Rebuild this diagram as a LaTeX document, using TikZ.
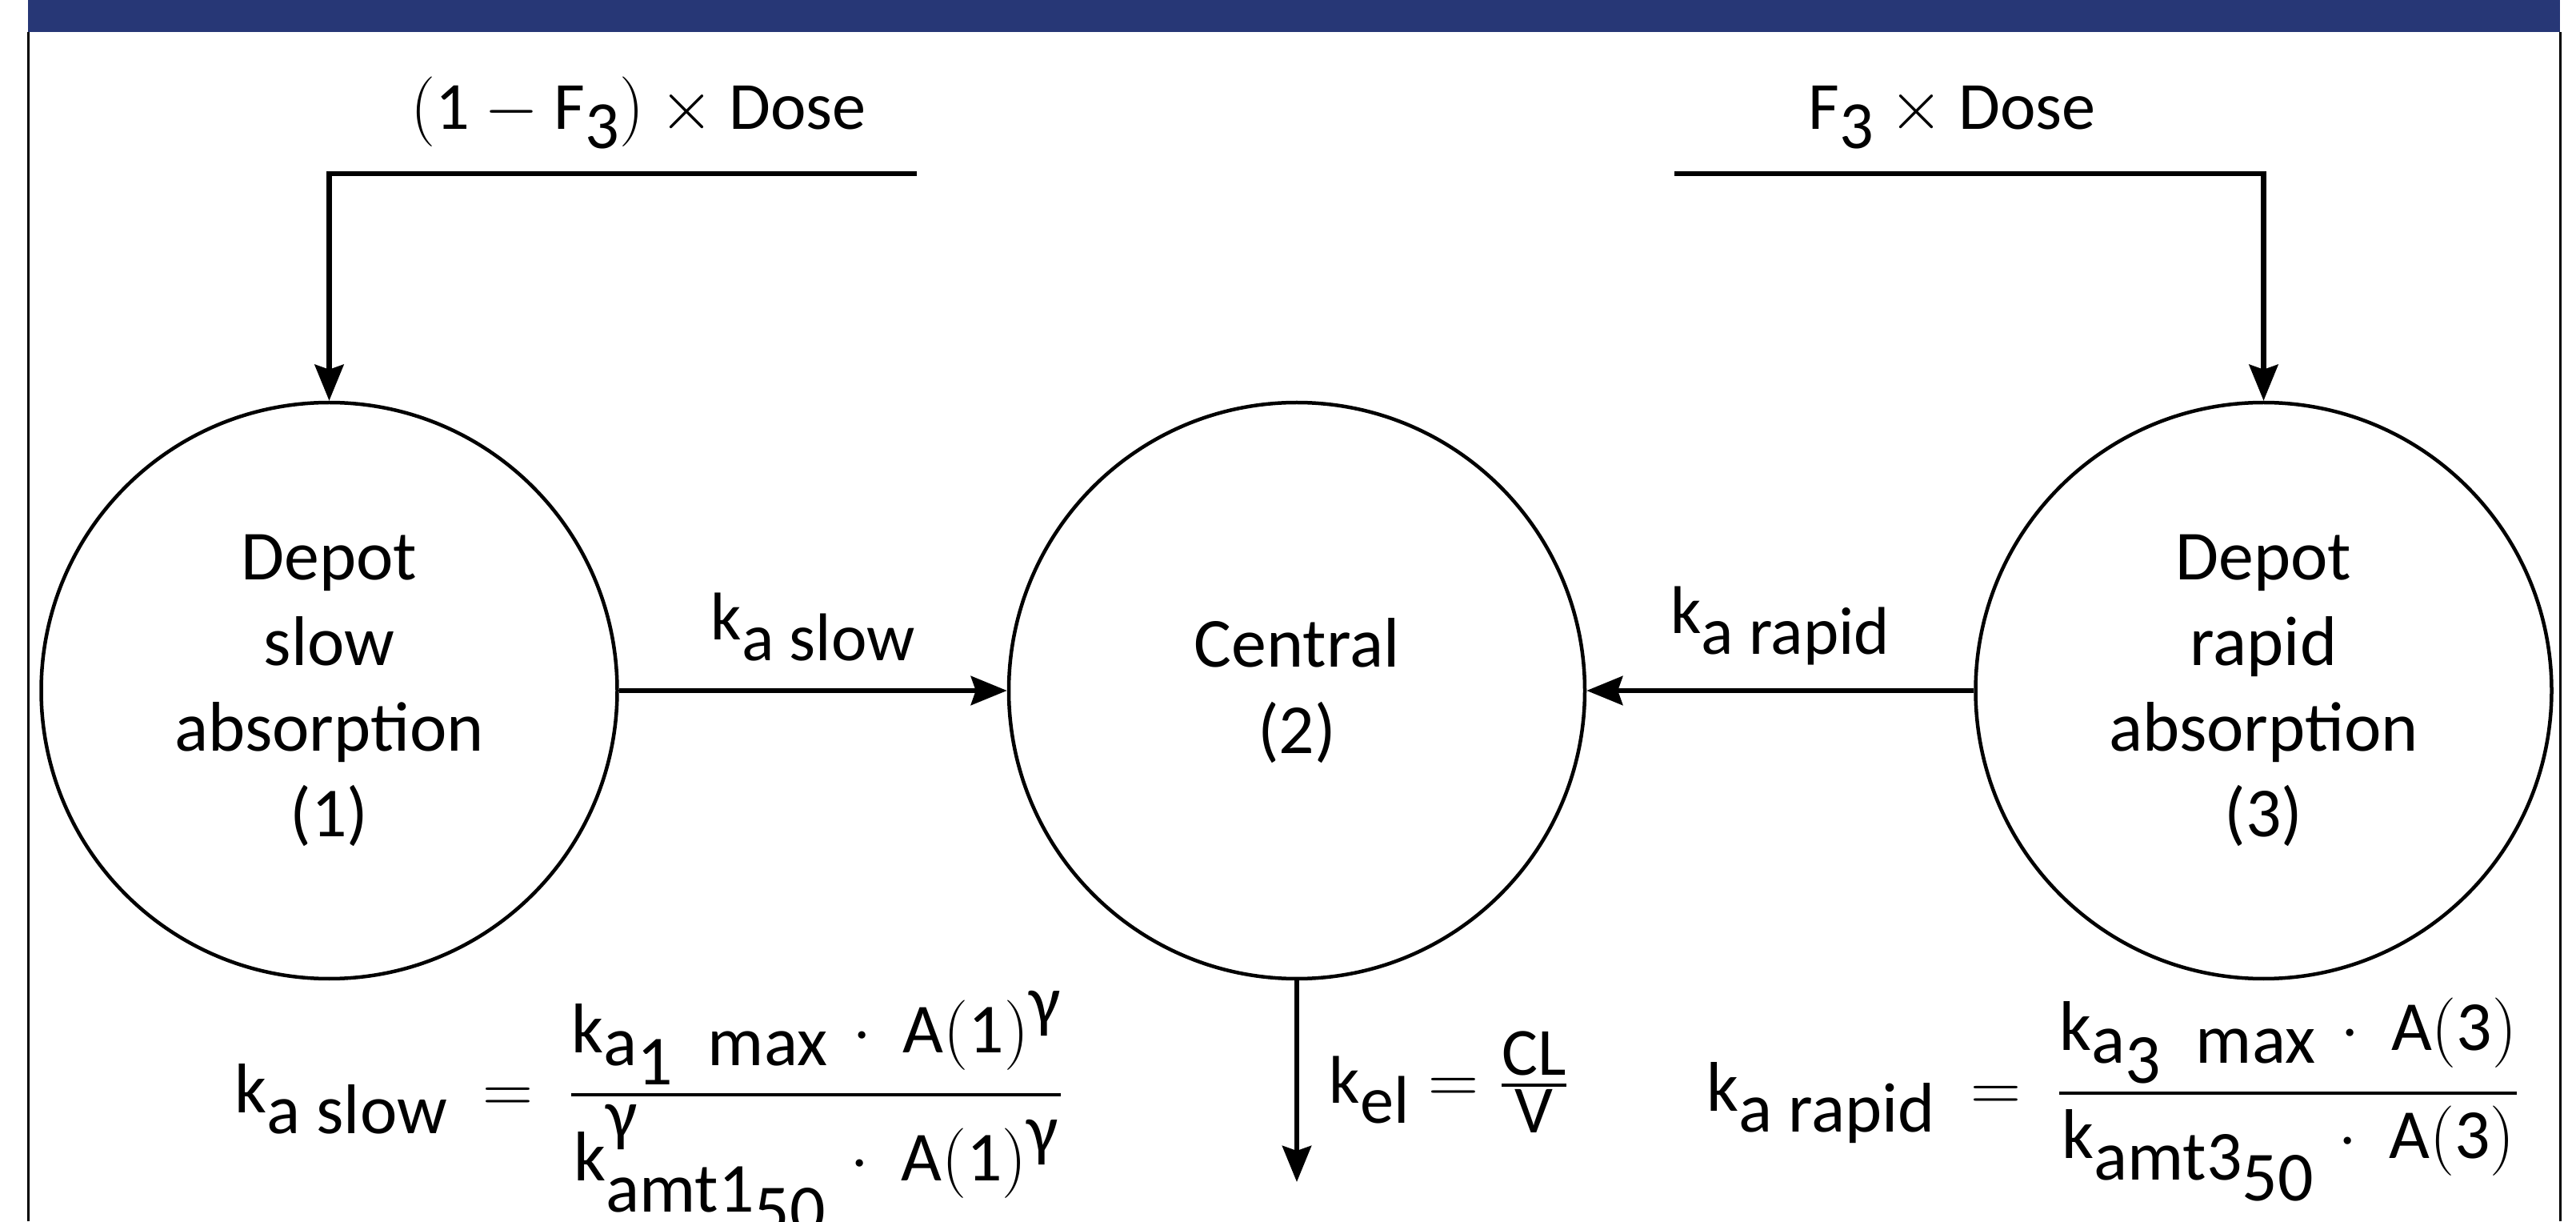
\documentclass[tikz,border=0pt]{standalone}
\usepackage{amsmath}
\usepackage{fontspec}
\setmainfont{Carlito}
\usetikzlibrary{positioning, arrows.meta}
\definecolor{bannercolor}{RGB}{39, 55, 118}
\newcommand{\subdn}[2][0.3em]{\raisebox{-#1}{#2}}
\newcommand{\supup}[2][0.4em]{\raisebox{#1}{#2}}
\newcommand{\dotop}{\hspace{0.35em}$\cdot$\hspace{0.45em}}
\tikzset{
  compartment/.style={circle, draw, line width=0.45mm, minimum size=7.2cm, inner sep=0pt,
    align=center, font=\fontsize{25}{30.5}\selectfont},
  flow/.style={line width=0.65mm, -{Stealth[length=4.5mm, width=3.6mm, inset=0.6mm]}},
  lbl/.style={font=\fontsize{24}{29}\selectfont, inner sep=0pt},
  eqn/.style={font=\fontsize{25}{30}\selectfont, inner sep=0pt, anchor=base west}
}

\begin{document}
\begin{tikzpicture}
  \useasboundingbox (0,0) rectangle (32.2,15.26);
  % banner and frame
  \fill[bannercolor] (0.35,14.86) rectangle (32.0,15.26);
  \draw[line width=0.3mm] (0.35,0) -- (0.35,14.86);
  \draw[line width=0.3mm] (32.0,0) -- (32.0,14.86);

  % compartments
  \node[compartment] (central) at (16.21,6.63) {Central\\(2)};
  \node[compartment, left=4.85cm of central] (slow) {Depot\\slow\\absorption\\(1)};
  \node[compartment, right=4.84cm of central] (rapid) {Depot\\rapid\\absorption\\(3)};

  % dosing
  \coordinate (slowin) at (11.46,13.09);
  \coordinate (rapidin) at (20.93,13.09);
  \draw[flow] (slowin) -- (slowin -| slow.north) -- (slow.north);
  \draw[flow] (rapidin) -- (rapidin -| rapid.north) -- (rapid.north);
  \node[lbl, anchor=base] (slowdose) at (7.98,13.64) {$($1 $-$ F\subdn[0.28em]{3}$)$ $\times$ Dose};
  \node[lbl, anchor=base] (rapiddose) at (24.40,13.64) {F\subdn[0.28em]{3} $\times$ Dose};

  % absorption and elimination
  \draw[flow] (slow) -- node[lbl, anchor=base, yshift=0.63cm] (kaslow) {k\subdn{a slow}} (central);
  \draw[flow] (rapid) -- node[lbl, anchor=base, yshift=0.71cm] (karapid) {k\subdn{a rapid}} (central);
  \coordinate (out) at (16.21,0.49);
  \draw[flow] (central) -- (out);

  % rate equations
  \node[lbl, anchor=base west] (kel) at (16.61,1.48)
    {$\mbox{k\subdn{el}} = \frac{\mbox{CL}}{\mbox{V}}$};
  \node[eqn] (kslow) at (2.93,1.36)
    {$\mbox{k\subdn{a slow}}\ =\ \dfrac{\mbox{k\subdn[0.18em]{a\subdn[0.28em]{1}\hspace{0.5em}max}\dotop A$($1$)$\supup{γ}}}
      {\mbox{k\supup[0.6em]{\rlap{γ}}\subdn[0.45em]{amt1\subdn[0.3em]{50}}\dotop A$($1$)$\supup[0.38em]{γ}}}$};
  \node[eqn] (krapid) at (21.33,1.38)
    {$\mbox{k\subdn{a rapid}}\ =\ \dfrac{\mbox{k\subdn[0.18em]{a\subdn[0.28em]{3}\hspace{0.5em}max}\dotop A$($3$)$}}
      {\mbox{k\subdn[0.3em]{amt3\subdn[0.3em]{50}}\dotop A$($3$)$}}$};
\end{tikzpicture}
\end{document}
